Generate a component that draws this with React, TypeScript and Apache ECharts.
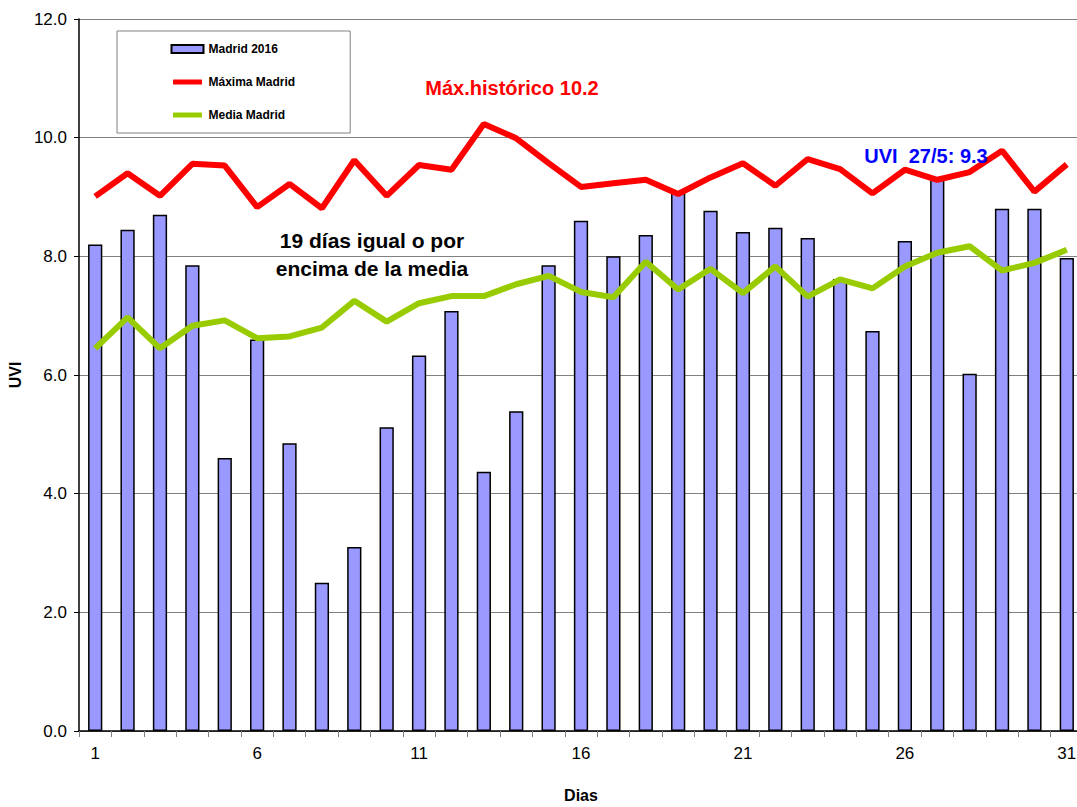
import React, { useEffect, useRef } from "react";
import * as echarts from "echarts";

const dias = ["1","2","3","4","5","6","7","8","9","10","11","12","13","14","15","16","17","18","19","20","21","22","23","24","25","26","27","28","29","30","31"];
const madrid2016 = [8.2,8.45,8.7,7.85,4.6,6.6,4.85,2.5,3.1,5.12,6.33,7.08,4.37,5.39,7.85,8.6,8.0,8.36,9.1,8.77,8.41,8.48,8.31,7.62,6.74,8.26,9.3,6.02,8.8,8.8,7.97];
const maximaMadrid = [9.01,9.4,9.02,9.56,9.53,8.83,9.22,8.81,9.62,9.02,9.54,9.46,10.23,9.99,9.57,9.17,9.23,9.29,9.05,9.33,9.57,9.19,9.64,9.47,9.06,9.46,9.29,9.42,9.78,9.09,9.55];
const mediaMadrid = [6.45,6.97,6.45,6.83,6.92,6.62,6.65,6.8,7.25,6.9,7.21,7.33,7.33,7.53,7.67,7.4,7.31,7.91,7.44,7.79,7.38,7.83,7.32,7.61,7.46,7.83,8.06,8.17,7.76,7.89,8.11];

const FONT = '"Liberation Sans", Arial, sans-serif';

export default function App() {
  const ref = useRef<HTMLDivElement>(null);
  useEffect(() => {
    if (!ref.current) return;
    const chart = echarts.init(ref.current, null, { renderer: "svg" });
    chart.setOption({
      animation: false,
      backgroundColor: "#ffffff",
      textStyle: { fontFamily: FONT },
      grid: { left: 79, top: 19, right: -6, bottom: 76, containLabel: false, outerBoundsMode: "none" },
      legend: {
        orient: "vertical",
        left: 117,
        top: 31,
        padding: [12, 55, 12, 53],
        itemGap: 21,
        itemWidth: 32,
        itemHeight: 8,
        borderColor: "#808080",
        borderWidth: 1,
        backgroundColor: "#ffffff",
        textStyle: { fontFamily: FONT, fontSize: 12, fontWeight: "bold", color: "#000" },
        data: [
          { name: "Madrid 2016", icon: "rect" },
          { name: "Máxima Madrid", icon: "roundRect", itemStyle: { color: "#ff0000", borderColor: "#ffffff", borderWidth: 3 } },
          { name: "Media Madrid", icon: "roundRect", itemStyle: { color: "#99cc00", borderColor: "#ffffff", borderWidth: 3 } },
        ],
      },
      xAxis: {
        type: "category",
        data: dias,
        boundaryGap: true,
        name: "Dias",
        nameLocation: "middle",
        nameGap: 56,
        nameTextStyle: { fontFamily: FONT, fontSize: 16, fontWeight: "bold", color: "#000" },
        axisLine: { lineStyle: { color: "#000", width: 1.5 } },
        axisTick: { show: true, interval: 0, length: 6, lineStyle: { color: "#808080" } },
        axisLabel: { interval: 4, fontSize: 17, color: "#000", margin: 14, fontFamily: FONT },
        splitLine: { show: false },
      },
      yAxis: {
        type: "value",
        min: 0,
        max: 12,
        interval: 2,
        name: "UVI",
        nameLocation: "middle",
        nameGap: 55,
        nameRotate: 90,
        nameTextStyle: { fontFamily: FONT, fontSize: 16, fontWeight: "bold", color: "#000" },
        axisLine: { show: true, lineStyle: { color: "#000", width: 1.5 } },
        axisTick: { show: true, length: 5, lineStyle: { color: "#000" } },
        axisLabel: { formatter: (v: number) => v.toFixed(1), fontSize: 17, color: "#000", margin: 12, fontFamily: FONT },
        splitLine: { show: true, lineStyle: { color: "#808080", width: 1 } },
      },
      series: [
        {
          name: "Madrid 2016",
          type: "bar",
          data: madrid2016,
          barWidth: "44%",
          itemStyle: { color: "#9999ff", borderColor: "#000", borderWidth: 1.5 },
          z: 1,
        },
        {
          name: "Máxima Madrid",
          type: "line",
          data: maximaMadrid,
          symbol: "none",
          showSymbol: false,
          lineStyle: { color: "#ff0000", width: 6 },
          itemStyle: { color: "#ff0000" },
          z: 3,
        },
        {
          name: "Media Madrid",
          type: "line",
          data: mediaMadrid,
          symbol: "none",
          showSymbol: false,
          lineStyle: { color: "#99cc00", width: 6 },
          itemStyle: { color: "#99cc00" },
          z: 3,
        },
      ],
      graphic: [
        {
          type: "text",
          x: 512,
          y: 88,
          z: 10,
          style: {
            text: "Máx.histórico 10.2",
            fill: "#ff0000",
            font: `bold 20px ${FONT}`,
            textAlign: "center",
            textVerticalAlign: "middle",
          },
        },
        {
          type: "text",
          x: 926,
          y: 156,
          z: 10,
          style: {
            text: "UVI  27/5: 9.3",
            fill: "#0000ff",
            font: `bold 20px ${FONT}`,
            textAlign: "center",
            textVerticalAlign: "middle",
          },
        },
        {
          type: "text",
          x: 372,
          y: 254,
          z: 10,
          style: {
            text: "19 días igual o por\nencima de la media",
            fill: "#000000",
            font: `bold 21px ${FONT}`,
            lineHeight: 28,
            textAlign: "center",
            textVerticalAlign: "middle",
          },
        },
      ],
    });
    return () => chart.dispose();
  }, []);
  return <div ref={ref} style={{ width: 1077, height: 807, position: "absolute", left: 0, top: 0 }} />;
}
